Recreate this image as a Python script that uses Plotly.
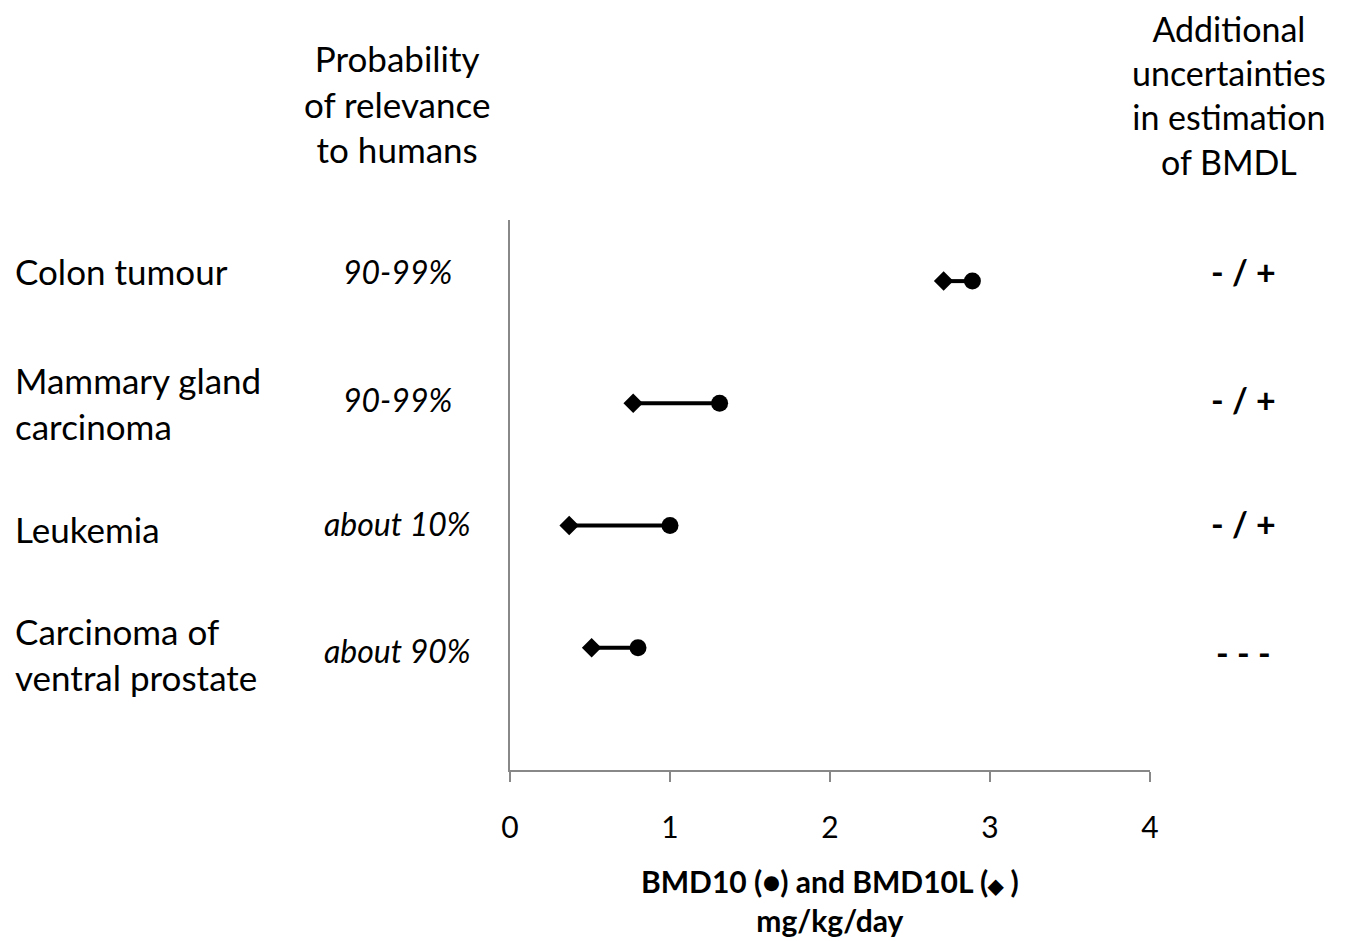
import plotly.graph_objects as go

categories = ["Colon tumour", "Mammary gland<br>carcinoma", "Leukemia", "Carcinoma of<br>ventral prostate"]
probability = ["90-99%", "90-99%", "about 10%", "about 90%"]
uncertainty = ["- / +", "- / +", "- / +", "- - -"]
bmd10 = [2.89, 1.31, 1.00, 0.80]
bmd10l = [2.71, 0.77, 0.37, 0.51]
row_pos = [4, 3, 2, 1]
x_ticks = [0, 1, 2, 3, 4]
x_title = "BMD10 (●) and BMD10L (<span style='font-size:20px'>◆</span> )<br>mg/kg/day"

FONT = "Lato"
W, H = 1349, 941
L, T = 510, 220
R = W - 1150
B = H - 770
PW = W - L - R
PH = H - T - B

def px(x):
    return (x - L) / PW

def py(y):
    return 1 + (T - y) / PH

fig = go.Figure()
for i in range(len(categories)):
    fig.add_trace(go.Scatter(
        x=[bmd10l[i], bmd10[i]], y=[row_pos[i], row_pos[i]],
        mode="lines", line=dict(color="black", width=4),
        showlegend=False, hoverinfo="skip"))
fig.add_trace(go.Scatter(
    x=bmd10l, y=row_pos, mode="markers",
    marker=dict(symbol="diamond", size=15, color="black", opacity=1, line=dict(width=0)),
    showlegend=False, hoverinfo="skip"))
fig.add_trace(go.Scatter(
    x=bmd10, y=row_pos, mode="markers",
    marker=dict(symbol="circle", size=17, color="black", opacity=1, line=dict(width=0)),
    showlegend=False, hoverinfo="skip"))

ann = []
label_offsets = [0.08, 0.0, -0.03, -0.05]
prob_offsets = [0.08, 0.03, 0.02, -0.02]
unc_offsets = [0.08, 0.03, 0.02, -0.04]
for i, c in enumerate(categories):
    ann.append(dict(text=c, xref="paper", yref="y", x=px(13), y=row_pos[i] + label_offsets[i],
                    xanchor="left", yanchor="middle", showarrow=False, align="left",
                    font=dict(family=FONT, size=35, color="black")))
    ann.append(dict(text="<i>" + probability[i] + "</i>", xref="paper", yref="y", x=px(397),
                    y=row_pos[i] + prob_offsets[i], xanchor="center", yanchor="middle",
                    showarrow=False, font=dict(family=FONT, size=32, color="black")))
    ann.append(dict(text="<b>" + uncertainty[i] + "</b>", xref="paper", yref="y", x=px(1243),
                    y=row_pos[i] + unc_offsets[i], xanchor="center", yanchor="middle",
                    showarrow=False, font=dict(family=FONT, size=34, color="black")))

ann.append(dict(text="Probability<br>of relevance<br>to humans", xref="paper", yref="paper",
                x=px(397), y=py(103), xanchor="center", yanchor="middle",
                showarrow=False, font=dict(family=FONT, size=35, color="black")))
ann.append(dict(text="Additional<br>uncertainties<br>in estimation<br>of BMDL", xref="paper", yref="paper",
                x=px(1229), y=py(95), xanchor="center", yanchor="middle",
                showarrow=False, font=dict(family=FONT, size=34, color="black")))
ann.append(dict(text="<b>" + x_title + "</b>", xref="paper", yref="paper",
                x=px(830), y=py(900), xanchor="center", yanchor="middle",
                showarrow=False, font=dict(family=FONT, size=30, color="black")))

fig.update_layout(
    width=W, height=H, autosize=False,
    margin=dict(l=L, r=R, t=T, b=B, pad=0),
    plot_bgcolor="white", paper_bgcolor="white",
    font=dict(family=FONT, color="black"),
    annotations=ann,
    xaxis=dict(range=[0, 4], tickvals=x_ticks, ticks="outside", ticklen=10, tickcolor="#888888",
               tickwidth=1.5, showline=True, linecolor="#888888", linewidth=1.5, showgrid=False,
               zeroline=False, tickfont=dict(family=FONT, size=30, color="black"),
               ticklabelstandoff=20, automargin=False),
    yaxis=dict(range=[0, 4.5], showticklabels=False, ticks="", showline=True, linecolor="#888888",
               linewidth=1.5, showgrid=False, zeroline=False, automargin=False),
)
fig.write_html("out.html", config={"displayModeBar": False},
               post_script="document.body.style.margin='0';document.body.style.overflow='hidden';")
